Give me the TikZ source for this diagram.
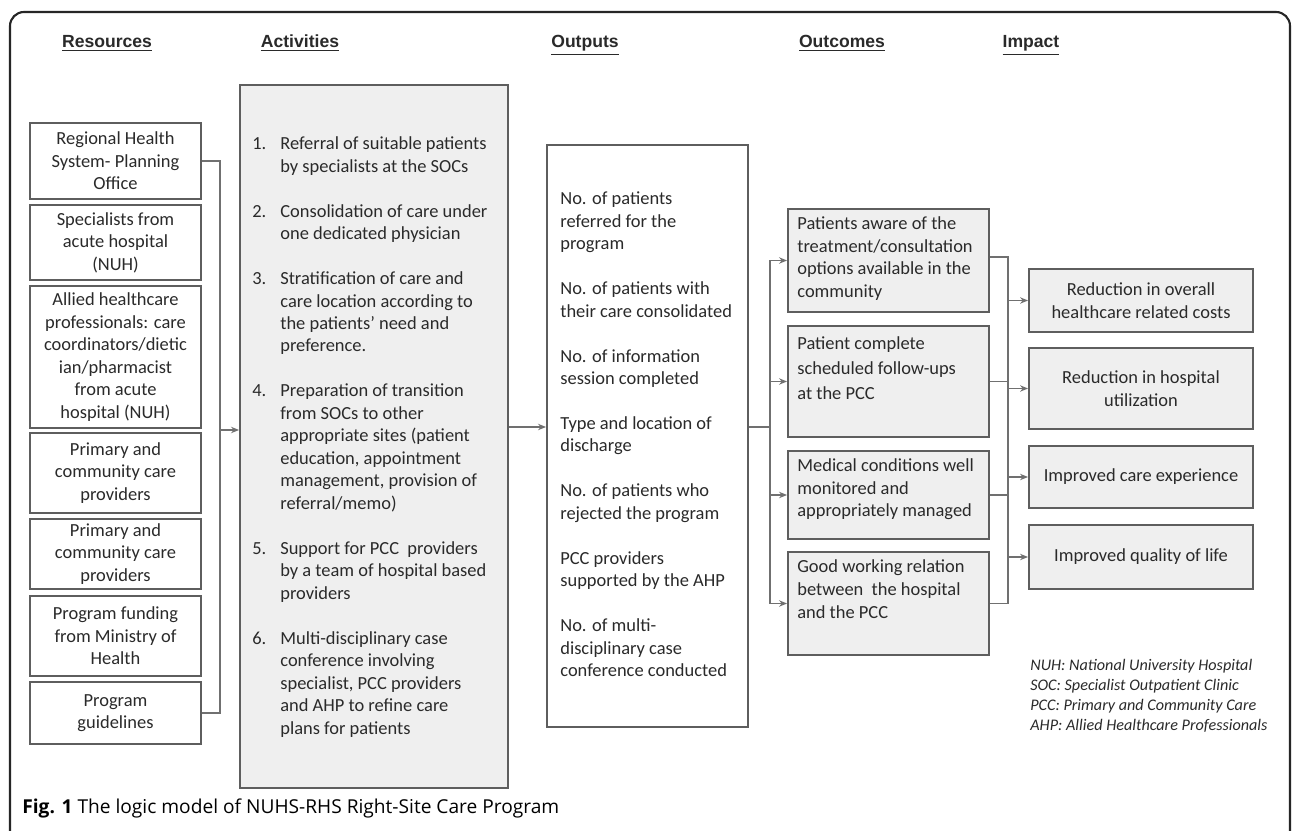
\documentclass[tikz,border=0pt]{standalone}
\usepackage{fontspec}
\setmainfont{Carlito}
\newfontfamily\hdfont{Liberation Sans}
\newfontfamily\capfont{Open Sans}
\usetikzlibrary{arrows.meta}
\newdimen\px \px=0.02cm
\definecolor{boxgray}{HTML}{5E5E5E}
\definecolor{lngray}{HTML}{707070}
\definecolor{fillg}{HTML}{EFEFEF}
\definecolor{txt}{HTML}{2A2A2A}
\newcommand\rowsL[1]{\begin{tabular}{@{}l@{}}#1\end{tabular}}
\begin{document}
\begin{tikzpicture}[x=0.02cm, y=-0.02cm,
  box/.style={draw=boxgray, line width=1.1pt, inner sep=0pt, text=txt, align=center,
    font=\fontsize{10.5}{12.8}\selectfont},
  gbox/.style={box, fill=fillg},
  lbl/.style={inner sep=0pt, text=txt, font=\fontsize{10.5}{12.8}\selectfont},
  hd/.style={inner sep=0pt, anchor=base, text=txt, font=\hdfont\bfseries\fontsize{10}{12}\selectfont},
  line/.style={draw=lngray, line width=1pt},
  arr/.style={line, -{Stealth[length=4.5pt, width=3.6pt]}}
]
\useasboundingbox (0,0) rectangle (1292,831);
\fill[white] (0,0) rectangle (1292,831);
% frame
\draw[line width=1.2pt, draw=black!85, rounded corners=14\px] (10,831) -- (10,12) -- (1290,12) -- (1290,831);

% headers
\node[hd] (h1) at (107,48) {\underline{Resources}};
\node[hd] (h2) at (300,48) {\underline{Activities}};
\node[hd] (h3) at (585,48) {\underline{Outputs}};
\node[hd] (h4) at (842,48) {\underline{Outcomes}};
\node[hd] (h5) at (1031,48) {\underline{Impact}};

% resources
\node[box, minimum width=171\px, minimum height=76\px] (R1) at (115.5,161) {Regional Health\\System- Planning\\Office};
\node[box, minimum width=171\px, minimum height=75\px] (R2) at (115.5,242.5) {Specialists from\\acute hospital\\(NUH)};
\node[box, minimum width=171\px, minimum height=142\px] (R3) at (115.5,357) {Allied healthcare\\professionals: care\\coordinators/dietic\\ian/pharmacist\\from acute\\hospital (NUH)};
\node[box, minimum width=171\px, minimum height=80\px] (R4) at (115.5,473) {Primary and\\community care\\providers};
\node[box, minimum width=171\px, minimum height=70\px] (R5) at (115.5,554) {Primary and\\community care\\providers};
\node[box, minimum width=171\px, minimum height=80\px] (R6) at (115.5,636) {Program funding\\from Ministry of\\Health};
\node[box, minimum width=171\px, minimum height=62\px] (R7) at (115.5,713) {Program\\guidelines};

% activities
\node[gbox, minimum width=268\px, minimum height=703\px] (act) at (374,436.5) {};
\node[lbl, anchor=north west] (acttext) at (252,133.5) {\begin{tabular}{@{}p{28\px}@{}l@{}}
1. & Referral of suitable patients\\
   & by specialists at the SOCs\\[12.8pt]
2. & Consolidation of care under\\
   & one dedicated physician\\[12.8pt]
3. & Stratification of care and\\
   & care location according to\\
   & the patients' need and\\
   & preference.\\[12.8pt]
4. & Preparation of transition\\
   & from SOCs to other\\
   & appropriate sites (patient\\
   & education, appointment\\
   & management, provision of\\
   & referral/memo)\\[12.8pt]
5. & Support for PCC\ \ providers\\
   & by a team of hospital based\\
   & providers\\[12.8pt]
6. & Multi-disciplinary case\\
   & conference involving\\
   & specialist, PCC providers\\
   & and AHP to refine care\\
   & plans for patients
\end{tabular}};

% outputs
\node[box, minimum width=201\px, minimum height=582\px] (out) at (647.5,436) {};
\node[lbl, anchor=north west] (outtext) at (560,188.5) {\rowsL{
No. of patients\\ referred for the\\ program\\[12.8pt]
No. of patients with\\ their care consolidated\\[12.8pt]
No. of information\\ session completed\\[12.8pt]
Type and location of\\ discharge\\[12.8pt]
No. of patients who\\ rejected the program\\[12.8pt]
PCC providers\\ supported by the AHP\\[12.8pt]
No. of multi-\\ disciplinary case\\ conference conducted}};

% outcomes
\node[gbox, minimum width=201\px, minimum height=103\px] (O1) at (888.5,260.5) {};
\node[gbox, minimum width=201\px, minimum height=111\px] (O2) at (888.5,381.5) {};
\node[gbox, minimum width=201\px, minimum height=88\px] (O3) at (888.5,495) {};
\node[gbox, minimum width=201\px, minimum height=103\px] (O4) at (888.5,603.5) {};
\node[lbl, anchor=north west] (O1t) at (797,213.5) {\rowsL{Patients aware of the\\ treatment/consultation\\ options available in the\\ community}};
\node[lbl, anchor=north west, font=\fontsize{10.5}{14.2}\selectfont] (O2t) at (797,331.8) {\rowsL{Patient complete\\ scheduled follow-ups\\ at the PCC}};
\node[lbl, anchor=north west] (O3t) at (797,455.5) {\rowsL{Medical conditions well\\ monitored and\\ appropriately managed}};
\node[lbl, anchor=north west, font=\fontsize{10.5}{13.3}\selectfont] (O4t) at (797,555.5) {\rowsL{Good working relation\\ between\ \ the hospital\\ and the PCC}};

% impact
\node[gbox, minimum width=224\px, minimum height=63\px] (I1) at (1141,300.5) {Reduction in overall\\healthcare related costs};
\node[gbox, minimum width=224\px, minimum height=81\px] (I2) at (1141,388.5) {Reduction in hospital\\utilization};
\node[gbox, minimum width=224\px, minimum height=62\px] (I3) at (1141,477) {Improved care experience};
\node[gbox, minimum width=224\px, minimum height=64\px] (I4) at (1141,557) {Improved quality of life};

% legend
\node[lbl, anchor=north west, font=\itshape\fontsize{9.2}{11.3}\selectfont] (leg) at (1030,656.5) {\rowsL{
NUH: National University Hospital\\
SOC: Specialist Outpatient Clinic\\
PCC: Primary and Community Care\\
AHP: Allied Healthcare Professionals}};

% caption
\node[anchor=west, inner sep=0pt, font=\capfont\fontsize{10.9}{13}\selectfont] (cap) at (22,808) {\textbf{Fig. 1} The logic model of NUHS-RHS Right-Site Care Program};

% connectors: resources -> activities
\coordinate (b1t) at (220,161);
\coordinate (b1b) at (220,713);
\coordinate (b1m) at (220,430);
\draw[line] (R1.east) -- (b1t) -- (b1b) -- (R7.east);
\draw[arr] (b1m) -- (b1m -| act.west);

% activities -> outputs
\coordinate (m2) at (0,427);
\draw[arr] (act.east |- m2) -- (out.west |- m2);

% outputs -> outcomes
\coordinate (b2t) at (770,260.5);
\coordinate (b2b) at (770,603.5);
\draw[line] (out.east |- m2) -- (b2t |- m2);
\draw[line] (b2t) -- (b2b);
\draw[arr] (b2t) -- (O1.west);
\draw[arr] (b2t |- O2.west) -- (O2.west);
\draw[arr] (b2t |- O3.west) -- (O3.west);
\draw[arr] (b2b) -- (O4.west);

% outcomes -> impact
\coordinate (b3t) at (1008,257);
\coordinate (b3b) at (1008,603.5);
\draw[line] (O1.east |- b3t) -- (b3t) -- (b3b) -- (O4.east);
\draw[line] (O2.east) -- (b3t |- O2.east);
\draw[line] (O3.east) -- (b3t |- O3.east);
\draw[arr] (b3t |- I1.west) -- (I1.west);
\draw[arr] (b3t |- I2.west) -- (I2.west);
\draw[arr] (b3t |- I3.west) -- (I3.west);
\draw[arr] (b3t |- I4.west) -- (I4.west);
\end{tikzpicture}
\end{document}
